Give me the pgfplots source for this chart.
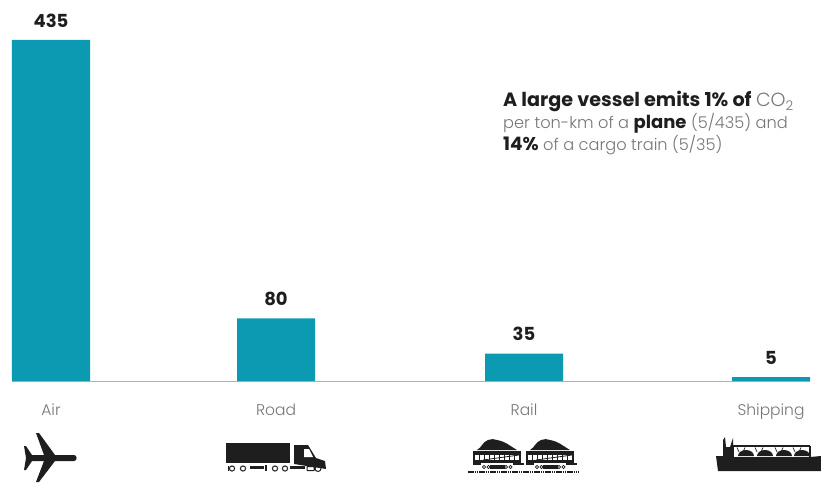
\documentclass[border=0pt]{standalone}
\usepackage{pgfplots}
\pgfplotsset{compat=1.18}
\usepackage{fontspec}
\setmainfont{Poppins Light}[BoldFont={Poppins Bold}]
\definecolor{barteal}{HTML}{0C9AB2}
\definecolor{softgray}{HTML}{767676}
\definecolor{inkblack}{HTML}{1E1E1E}
\newcommand{\ink}[2][18]{{\fontsize{#1}{22}\selectfont\bfseries\color{inkblack}#2}}
\begin{document}
\begin{tikzpicture}[x=1pt,y=1pt]
% page frame in pixel-sized points
\path (0,0) rectangle (821,482);
\begin{axis}[
  at={(12pt,101pt)}, anchor=south west,
  scale only axis, width=798pt, height=341pt,
  xmin=12, xmax=810, ymin=0, ymax=435,
  clip=false,
  axis x line=bottom, axis y line=none,
  axis line style={-, draw=black!30, line width=1pt},
  xtick=data,
  xticklabels={Air,Road,Rail,Shipping},
  major tick length=0pt,
  xtick style={draw=none},
  tick label style={font=\fontsize{15.5}{18}\selectfont, text=softgray},
  xticklabel style={yshift=-19pt, anchor=north},
  ybar, bar width=78pt, bar shift=0pt,
  nodes near coords,
  every node near coord/.append style={
    font=\fontsize{18}{20}\selectfont\bfseries, text=inkblack, yshift=9pt,
    /pgf/number format/assume math mode=true},
]
\addplot[fill=barteal, draw=none] coordinates {(51,435) (276,80) (524,35) (771,5)};
\end{axis}

% annotation
\begin{scope}[font=\fontsize{16.2}{22}\selectfont, text=softgray]
\node[anchor=base west, inner sep=0pt] at (503,482-107) {\ink[19.2]{A large vessel emits 1\% of} {\fontsize{19}{22}\selectfont CO\textsubscript{2}}};
\node[anchor=base west, inner sep=0pt] at (503,482-129) {per ton-km of a \ink{plane} (5/435) and};
\node[anchor=base west, inner sep=0pt] at (503,482-151) {\ink[18.5]{14\%} of a cargo train (5/35)};
\end{scope}

% pictograms, drawn in a y-down frame
\begin{scope}[x=1pt,y=-1pt,yshift=482pt,line join=round]
% plane
\fill[inkblack] (24,446) -- (26,446) -- (32,455) -- (44,455) -- (36,433) -- (39,433) -- (55,455)
  -- (74,455) to[out=0,in=0,looseness=1.5] (74,461) -- (55,461) -- (39,482) -- (36,482) -- (44,461)
  -- (32,461) -- (26,470) -- (24,470) -- (26,458) -- cycle;
% truck
\fill[inkblack] (226,443) rectangle (290,463);
\fill[inkblack] (294,445) -- (308,445) -- (316,458) -- (325,461) -- (326,469) -- (294,464) -- cycle;
\fill[white] (304,449) -- (309,449) -- (313,457) -- (304,457) -- cycle;
\fill[inkblack] (250,466) rectangle (264,469);
\fill[inkblack] (265,465) rectangle (266.5,471);
\fill[inkblack] (290,466) rectangle (305,469);
\draw[inkblack, line width=1pt] (232,468.5) circle (2.6) (243,468.5) circle (2.6)
  (275,468.5) circle (2.6) (285,468.5) circle (2.6) (318,468.5) circle (3)
  (307,466.5) rectangle (314,470.5);
\fill[inkblack] (228,466) rectangle (229,471);
% rail cars
\foreach \dx in {0,53}{
  \begin{scope}[xshift=\dx pt]
  \fill[inkblack] (477,450) to[out=30,in=200] (488,440) to[out=20,in=160] (497,440)
     to[out=-10,in=150] (517,450) -- cycle;
  \fill[inkblack] (473,451) rectangle (521,463);
  \fill[white] (475,455) rectangle (519,460);
  \foreach \px in {479,484,489,494,499,504,509,514}
    \fill[inkblack] (\px,454) rectangle (\px+1.2,461);
  \draw[inkblack, line width=.8pt] (483,460) -- (519,455);
  \fill[inkblack] (490,465) rectangle (505,468.5);
  \fill[inkblack] (473,463) rectangle (481,465);
  \fill[inkblack] (513,463) rectangle (524,465);
  \foreach \wx in {484,488.5,506,510.5}
    \draw[inkblack, line width=.8pt] (\wx,467) circle (1.6);
  \end{scope}
}
\draw[inkblack, line width=1.1pt, dash pattern=on 1.6pt off .6pt] (468,472) -- (579,472);
% ship
\fill[inkblack] (716,456) -- (723,456) -- (723,440) -- (725,437) -- (726,447) -- (730,447) -- (733,438)
  -- (733,457) -- (810,457) -- (821,456) -- (821,471) -- (718,471) -- cycle;
\draw[inkblack, line width=1.2pt] (733,446) -- (810,446) (810,446) -- (810,457) (733,446) -- (733,457);
\fill[white] (735,447.5) rectangle (808.5,456);
\foreach \sx in {746,765,784,802}
  \fill[inkblack] (\sx-8,456) arc[start angle=180,end angle=0,x radius=8pt,y radius=6pt] -- cycle;
\foreach \sx in {737,755,775,793}
  \draw[inkblack, line width=.7pt] (\sx,447.5) -- (\sx+2,452) (\sx+8,447.5) -- (\sx+6,452);
\end{scope}
\end{tikzpicture}
\end{document}
